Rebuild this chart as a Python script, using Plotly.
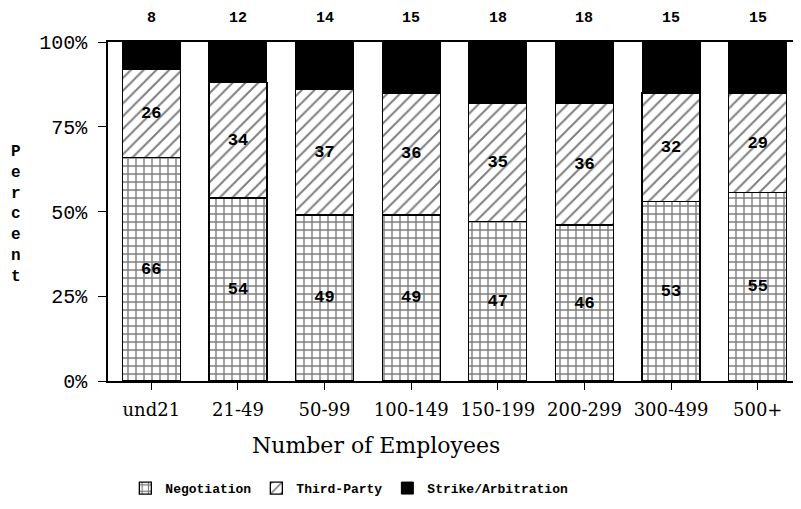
import plotly.graph_objects as go

categories = ["und21", "21-49", "50-99", "100-149", "150-199", "200-299", "300-499", "500+"]
negotiation = [66, 54, 49, 49, 47, 46, 53, 55]
third_party = [26, 34, 37, 36, 35, 36, 32, 29]
strike = [8, 12, 14, 15, 18, 18, 15, 15]
y_ticks = [0, 25, 50, 75, 100]
y_tick_labels = ["0%", "25%", "50%", "75%", "100%"]

mono = "Liberation Mono"
serif = "DejaVu Serif"

fig = go.Figure()
fig.add_trace(go.Bar(
    name="Negotiation", x=categories, y=negotiation,
    text=[str(v) for v in negotiation], textposition="inside",
    insidetextanchor="middle",
    textfont=dict(family=mono, size=17, color="black", weight="bold"),
    marker=dict(color="white", line=dict(color="black", width=1.3),
                pattern=dict(shape="+", fgcolor="black", bgcolor="white",
                             size=8, solidity=0.33, fillmode="overlay")),
))
fig.add_trace(go.Bar(
    name="Third-Party", x=categories, y=third_party,
    text=[str(v) for v in third_party], textposition="inside",
    insidetextanchor="middle",
    textfont=dict(family=mono, size=17, color="black", weight="bold"),
    marker=dict(color="white", line=dict(color="black", width=1.3),
                pattern=dict(shape="/", fgcolor="black", bgcolor="white",
                             size=9, solidity=0.22, fillmode="overlay")),
))
fig.add_trace(go.Bar(
    name="Strike/Arbitration", x=categories, y=strike,
    marker=dict(color="black", line=dict(color="black", width=1)),
))

for c, s in zip(categories, strike):
    fig.add_annotation(x=c, y=100, yref="y", text=str(s), showarrow=False,
                       yshift=24, font=dict(family=mono, size=15, color="black", weight="bold"))

fig.add_annotation(xref="paper", yref="paper", x=-0.133, y=0.49,
                   text="<br>".join(list("Percent")), showarrow=False,
                   xanchor="center", yanchor="middle",
                   font=dict(family=mono, size=16, color="black", weight="bold"))

fig.add_annotation(xref="paper", yref="paper", x=0.387, y=-0.19,
                   text="Number of Employees", showarrow=False,
                   xanchor="center", yanchor="middle",
                   font=dict(family=serif, size=22, color="black"))

# page body has a default 8px margin, so the figure is offset by 8px
fig.update_layout(
    barmode="stack", barnorm="percent", bargap=0.33,
    width=793, height=501,
    margin=dict(l=100, r=0, t=34, b=128, autoexpand=False),
    plot_bgcolor="white", paper_bgcolor="white",
    showlegend=True,
    legend=dict(orientation="h", x=0.025, y=-0.316, xanchor="left", yanchor="middle",
                font=dict(family=mono, size=13, color="black", weight="bold"),
                traceorder="normal"),
    xaxis=dict(range=[-0.5, 7.5], showline=True, linecolor="black", linewidth=1.5,
               mirror=True, ticks="outside", ticklen=7, tickcolor="black",
               ticklabelstandoff=5,
               tickfont=dict(family=serif, size=18, color="black"),
               showgrid=False, automargin=False),
    yaxis=dict(range=[0, 100], tickvals=y_ticks, ticktext=y_tick_labels,
               showline=True, linecolor="black", linewidth=1.5,
               ticks="outside", ticklen=8, tickcolor="black", ticklabelstandoff=7,
               tickfont=dict(family=mono, size=20, color="black"),
               showgrid=False, zeroline=False, automargin=False),
)

fig.write_html("out.html")
